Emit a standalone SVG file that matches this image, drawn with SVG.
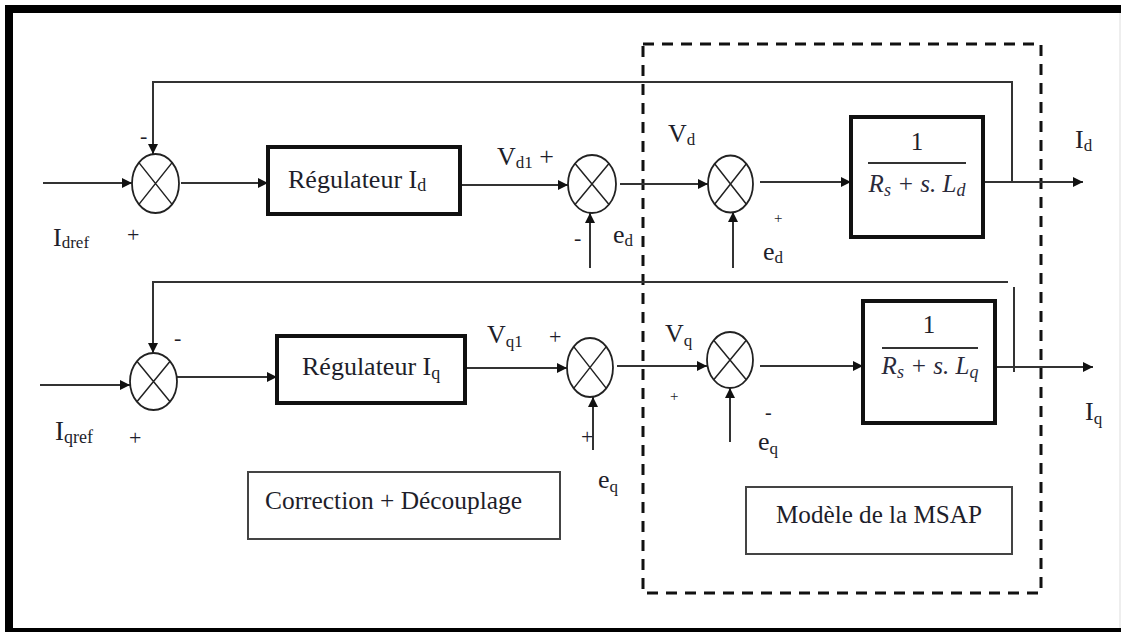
<svg xmlns="http://www.w3.org/2000/svg" width="1121" height="632" viewBox="0 0 1121 632">
<defs>
<marker id="arr" viewBox="0 0 10 10" refX="10" refY="5" markerWidth="11" markerHeight="10" markerUnits="userSpaceOnUse" orient="auto">
<path d="M0,0 L10,5 L0,10 z" fill="#111"/>
</marker>
</defs>
<style>
.ln{fill:none;stroke:#333;stroke-width:2}
.ar{fill:none;stroke:#333;stroke-width:2;marker-end:url(#arr)}
.sum{fill:#fff;stroke:#222;stroke-width:1.8}
.x{stroke:#222;stroke-width:1.5}
.blk{fill:#fff;stroke:#111;stroke-width:4}
.lbl{fill:#fff;stroke:#444;stroke-width:2}
.t{font-family:"Liberation Serif","Times New Roman",serif;fill:#1e1e2a}
.m{font-family:"Liberation Serif","Times New Roman",serif;font-style:italic;fill:#2a2a3a}
</style>
<rect width="1121" height="632" fill="#fff"/>
<!-- outer frame -->
<rect x="5" y="5" width="1116" height="8" fill="#000"/>
<rect x="5" y="5" width="8" height="627" fill="#000"/>
<rect x="5" y="628" width="1116" height="4" fill="#000"/>
<line x1="1120" y1="13" x2="1120" y2="628" stroke="#ddd" stroke-width="1"/>
<!-- dashed MSAP area -->
<rect x="643" y="44" width="398" height="549" fill="none" stroke="#111" stroke-width="3" stroke-dasharray="11 8"/>

<g id="connectors">
<path class="ar" d="M43,183 H132"/>
<path class="ar" d="M181,183 H268"/>
<path class="ar" d="M460,185 H568"/>
<path class="ar" d="M620,184 H708"/>
<path class="ar" d="M760,182 H851"/>
<path class="ar" d="M983,182 H1083"/>
<path class="ar" d="M1012,182 V82 H153 V154"/>
<path class="ar" d="M590,268 V213"/>
<path class="ar" d="M733,268 V212"/>
<path class="ar" d="M40,385 H130"/>
<path class="ar" d="M177,377 H277"/>
<path class="ar" d="M465,368 H567"/>
<path class="ar" d="M617,366 H707"/>
<path class="ar" d="M760,366 H863"/>
<path class="ar" d="M995,367 H1093"/>
<path class="ln" d="M1014,372 V287"/>
<path class="ar" d="M1008,282 H153 V353"/>
<path class="ar" d="M593,450 V397"/>
<path class="ar" d="M730,442 V388"/>
</g>

<g id="sum1"><ellipse class="sum" cx="155.5" cy="183.5" rx="23.5" ry="29.5"/><path class="x" d="M138.9,162.6 L172.1,204.4 M172.1,162.6 L138.9,204.4"/></g>
<g id="sum2"><ellipse class="sum" cx="592" cy="184" rx="24" ry="29"/><path class="x" d="M575,163.5 L609,204.5 M609,163.5 L575,204.5"/></g>
<g id="sum3"><ellipse class="sum" cx="730.5" cy="184" rx="22.5" ry="28.5"/><path class="x" d="M714.6,163.8 L746.4,204.2 M746.4,163.8 L714.6,204.2"/></g>
<g id="sum4"><ellipse class="sum" cx="153.5" cy="381.5" rx="23.5" ry="28.5"/><path class="x" d="M136.9,361.3 L170.1,401.7 M170.1,361.3 L136.9,401.7"/></g>
<g id="sum5"><ellipse class="sum" cx="590" cy="367.5" rx="23" ry="29.5"/><path class="x" d="M573.7,346.6 L606.3,388.4 M606.3,346.6 L573.7,388.4"/></g>
<g id="sum6"><ellipse class="sum" cx="730" cy="360" rx="23" ry="28"/><path class="x" d="M713.7,340.2 L746.3,379.8 M746.3,340.2 L713.7,379.8"/></g>

<g id="reg-d"><rect class="blk" x="268" y="147" width="192" height="67"/>
<text class="t" x="288" y="188" font-size="26">Régulateur I<tspan font-size="18" dy="3">d</tspan></text></g>
<g id="reg-q"><rect class="blk" x="277" y="336" width="188" height="67"/>
<text class="t" x="302" y="375" font-size="26">Régulateur I<tspan font-size="18" dy="4">q</tspan></text></g>

<g id="plant-d"><rect class="blk" x="851" y="117" width="132" height="120"/>
<text class="t" x="917" y="150" font-size="25" text-anchor="middle">1</text>
<line x1="868" y1="163" x2="966" y2="163" stroke="#333" stroke-width="2"/>
<text class="m" x="917" y="192" font-size="25" text-anchor="middle">R<tspan font-size="18" dy="4">s</tspan><tspan dy="-4"> + s. L</tspan><tspan font-size="18" dy="4">d</tspan></text></g>
<g id="plant-q"><rect class="blk" x="863" y="301" width="132" height="122"/>
<text class="t" x="929" y="333" font-size="25" text-anchor="middle">1</text>
<line x1="882" y1="348" x2="978" y2="348" stroke="#333" stroke-width="2"/>
<text class="m" x="930" y="374" font-size="25" text-anchor="middle">R<tspan font-size="18" dy="4">s</tspan><tspan dy="-4"> + s. L</tspan><tspan font-size="18" dy="4">q</tspan></text></g>

<g id="correction"><rect class="lbl" x="248" y="472" width="312" height="67"/>
<text class="t" x="265" y="509" font-size="25" textLength="257" lengthAdjust="spacingAndGlyphs">Correction + Découplage</text></g>
<g id="modele"><rect class="lbl" x="746" y="487" width="266" height="67"/>
<text class="t" x="776" y="523" font-size="25" textLength="206" lengthAdjust="spacingAndGlyphs">Modèle de la MSAP</text></g>

<g id="labels">
<text class="t" x="140" y="143" font-size="22">-</text>
<text class="t" x="127" y="242" font-size="22">+</text>
<text class="t" x="53" y="246" font-size="26">I<tspan font-size="17" dy="2">dref</tspan></text>
<text class="t" x="497" y="165" font-size="26">V<tspan font-size="17" dy="3">d1</tspan><tspan dy="-3"> +</tspan></text>
<text class="t" x="668" y="142" font-size="26">V<tspan font-size="17" dy="3">d</tspan></text>
<text class="t" x="574" y="245" font-size="22">-</text>
<text class="t" x="613" y="243" font-size="26">e<tspan font-size="17" dy="3">d</tspan></text>
<text class="t" x="774" y="223" font-size="15">+</text>
<text class="t" x="763" y="260" font-size="26">e<tspan font-size="17" dy="3">d</tspan></text>
<text class="t" x="1075" y="148" font-size="26">I<tspan font-size="17" dy="3">d</tspan></text>
<text class="t" x="174" y="345" font-size="22">-</text>
<text class="t" x="55" y="440" font-size="27">I<tspan font-size="18" dy="3">qref</tspan></text>
<text class="t" x="129" y="445" font-size="22">+</text>
<text class="t" x="487" y="343" font-size="26">V<tspan font-size="17" dy="4">q1</tspan></text>
<text class="t" x="549" y="344" font-size="22">+</text>
<text class="t" x="665" y="342" font-size="26">V<tspan font-size="17" dy="4">q</tspan></text>
<text class="t" x="670" y="401" font-size="15">+</text>
<text class="t" x="581" y="444" font-size="22">+</text>
<text class="t" x="598" y="488" font-size="26">e<tspan font-size="17" dy="4">q</tspan></text>
<text class="t" x="765" y="419" font-size="20">-</text>
<text class="t" x="758" y="450" font-size="26">e<tspan font-size="17" dy="4">q</tspan></text>
<text class="t" x="1085" y="420" font-size="26">I<tspan font-size="17" dy="4">q</tspan></text>
</g>
</svg>
